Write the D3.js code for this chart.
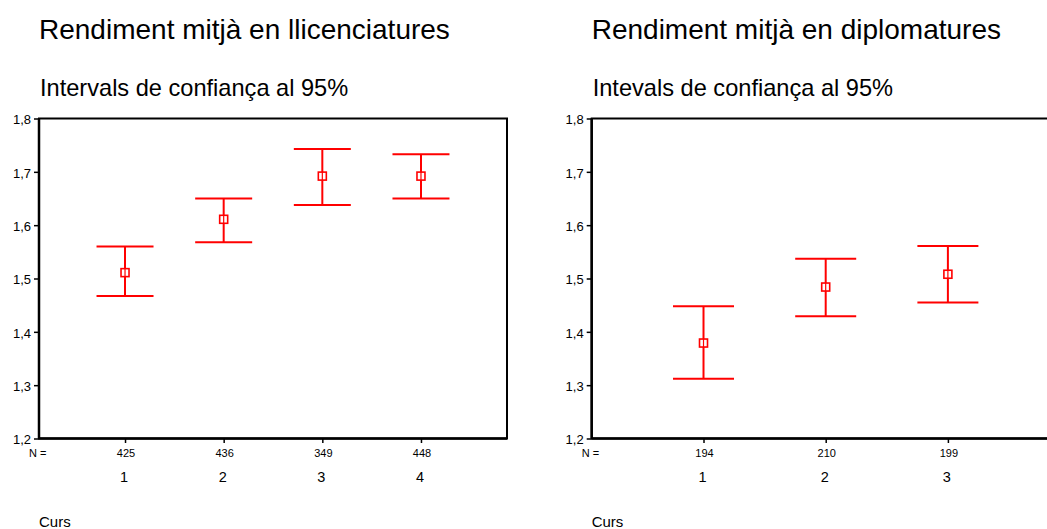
<!DOCTYPE html>
<html>
<head>
<meta charset="utf-8">
<script src="https://cdn.jsdelivr.net/npm/d3@7/dist/d3.min.js"></script>
<style>
  html, body { margin: 0; padding: 0; background: #fff; }
  svg { display: block; }
  text { font-family: "Liberation Sans", Arial, sans-serif; fill: #000; }
</style>
</head>
<body>
<svg id="chart" width="1047" height="529"></svg>
<script>
// ---- Data ----
const yTicks = [1.2, 1.3, 1.4, 1.5, 1.6, 1.7, 1.8];

const licCategories = ["1", "2", "3", "4"];
const licMean  = [1.511, 1.611, 1.692, 1.692];
const licLower = [1.467, 1.568, 1.638, 1.650];
const licUpper = [1.560, 1.650, 1.743, 1.733];
const licN     = ["425", "436", "349", "448"];

const dipCategories = ["1", "2", "3"];
const dipMean  = [1.379, 1.484, 1.508];
const dipLower = [1.312, 1.429, 1.455];
const dipUpper = [1.448, 1.537, 1.561];
const dipN     = ["194", "210", "199"];

const svg = d3.select("#chart");

function panel(opts) {
  const g = svg.append("g");
  const x0 = opts.left, x1 = opts.left + 468, top = 118.5, bottom = 438.5;
  const y = d3.scaleLinear().domain([1.2, 1.8]).range([bottom, top]);
  const x = d3.scalePoint().domain(opts.categories).range([x0, x1]).padding(opts.padding);

  // titles
  g.append("text").attr("x", x0).attr("y", 39)
    .style("font-size", "28px").text(opts.title);
  g.append("text").attr("x", x0 + 1).attr("y", 96)
    .style("font-size", "23.6px").text(opts.subtitle);

  // frame
  g.append("rect").attr("x", x0).attr("y", top).attr("width", x1 - x0).attr("height", bottom - top)
    .attr("fill", "none").attr("stroke", "#000").attr("stroke-width", 2);
  g.append("line").attr("x1", x0).attr("x2", x0).attr("y1", top).attr("y2", bottom)
    .attr("stroke", "#000").attr("stroke-width", 2.5);
  g.append("line").attr("x1", x0).attr("x2", x1).attr("y1", bottom).attr("y2", bottom)
    .attr("stroke", "#000").attr("stroke-width", 2.5);

  // y axis
  const yAxis = d3.axisLeft(y).tickValues(yTicks).tickSize(5).tickPadding(3)
    .tickFormat(d => d3.format(".1f")(d).replace(".", ","));
  const ya = g.append("g").attr("transform", `translate(${x0},0)`).call(yAxis);
  ya.select(".domain").remove();
  ya.selectAll(".tick line").attr("stroke", "#000").attr("stroke-width", 1.5);
  ya.selectAll(".tick text").style("font-size", "13px").style("font-family", "'Liberation Sans', Arial, sans-serif")
    .attr("dy", "0.42em");

  // x axis
  const xAxis = d3.axisBottom(x).tickSize(4.5).tickPadding(0).tickFormat("");
  const xa = g.append("g").attr("transform", `translate(0,${bottom})`).call(xAxis);
  xa.select(".domain").remove();
  xa.selectAll(".tick line").attr("stroke", "#000").attr("stroke-width", 1.5);

  // N labels
  g.append("text").attr("x", opts.nLabelX).attr("y", 457).style("font-size", "11px").text("N =");
  g.selectAll(".nlab").data(opts.n).enter().append("text")
    .attr("x", (d, i) => x(opts.categories[i]) + 1).attr("y", 457)
    .attr("text-anchor", "middle").style("font-size", "11px").text(d => d);

  // category labels
  g.selectAll(".clab").data(opts.categories).enter().append("text")
    .attr("x", d => x(d) - 1).attr("y", 482)
    .attr("text-anchor", "middle").style("font-size", "14.5px").text(d => d);

  // axis title
  g.append("text").attr("x", x0).attr("y", 526.5).style("font-size", "15px").text("Curs");

  // error bars
  const red = "#ff0000";
  const hw = opts.capHalf;
  opts.categories.forEach((c, i) => {
    const cx = x(c);
    g.append("line").attr("x1", cx).attr("x2", cx)
      .attr("y1", y(opts.upper[i])).attr("y2", y(opts.lower[i]))
      .attr("stroke", red).attr("stroke-width", 2);
    [opts.upper[i], opts.lower[i]].forEach(v => {
      g.append("line").attr("x1", cx - hw).attr("x2", cx + hw)
        .attr("y1", y(v)).attr("y2", y(v))
        .attr("stroke", red).attr("stroke-width", 2);
    });
    g.append("rect").attr("x", cx - 4).attr("y", y(opts.mean[i]) - 4)
      .attr("width", 8).attr("height", 8)
      .attr("fill", "#fff").attr("stroke", red).attr("stroke-width", 1.6);
    g.append("line").attr("x1", cx).attr("x2", cx)
      .attr("y1", y(opts.mean[i]) - 4).attr("y2", y(opts.mean[i]) + 4)
      .attr("stroke", red).attr("stroke-width", 1.2);
  });
}

panel({
  left: 39, padding: 0.872, capHalf: 28.5, nLabelX: 29,
  title: "Rendiment mitjà en llicenciatures",
  subtitle: "Intervals de confiança al 95%",
  categories: licCategories, mean: licMean, lower: licLower, upper: licUpper, n: licN
});
panel({
  left: 591.7, padding: 0.915, capHalf: 30.5, nLabelX: 581.7,
  title: "Rendiment mitjà en diplomatures",
  subtitle: "Intevals de confiança al 95%",
  categories: dipCategories, mean: dipMean, lower: dipLower, upper: dipUpper, n: dipN
});
</script>
</body>
</html>
